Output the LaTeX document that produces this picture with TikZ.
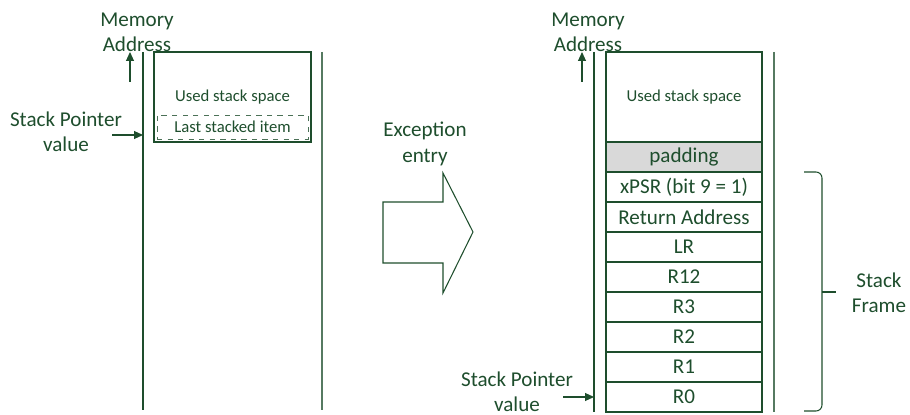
\documentclass[tikz,border=0pt]{standalone}
\usepackage{fontspec}
\setmainfont{Carlito}
\usetikzlibrary{positioning,arrows.meta}
\definecolor{stackgreen}{HTML}{1E4E2D}
\definecolor{padgray}{HTML}{D9D9D9}
\tikzset{
  stack cell/.style={
    draw=stackgreen,
    text=stackgreen,
    minimum width=31.2mm,
    minimum height=6mm,
    inner sep=0pt,
    outer sep=0pt,
    font=\fontsize{12}{14}\selectfont
  },
  big label/.style={
    align=center,
    text=stackgreen,
    font=\fontsize{12}{14.4}\selectfont
  },
  pointer/.style={
    draw=stackgreen,
    -{Triangle[length=1.8mm,width=1.6mm]}
  }
}

\begin{document}
\begin{tikzpicture}[x=0.2mm, y=-0.2mm, line width=0.6pt]
  \useasboundingbox (0,0) rectangle (910,415);

  % Before: memory walls
  \draw[stackgreen] (143,52) -- (143,410);
  \draw[stackgreen!75] (322,52) -- (322,410);

  % Before: used stack
  \node [stack cell, minimum width=31.4mm, minimum height=18mm,
         font=\fontsize{9.5}{11}\selectfont] (usedA) at (232.5,97) {Used stack space};
  \node [stack cell, dashed, line width=0.4pt, draw=stackgreen!80,
         minimum width=30.2mm, minimum height=4.8mm,
         font=\fontsize{9.5}{11}\selectfont] (lastA) at (232.5,127) {Last stacked item};

  % Before: labels
  \node [big label] (memA) at (137,32) {Memory\\Address};
  \node [big label] (spA) at (66,132) {Stack Pointer\\value};
  \coordinate (memAlo) at (130,82);
  \coordinate (memAhi) at (130,52);
  \coordinate (spAfrom) at (112,135);
  \coordinate (spAto) at (143,135);
  \draw[pointer] (memAlo) -- (memAhi);
  \draw[pointer] (spAfrom) -- (spAto);

  % Exception entry arrow
  \node [big label] (exc) at (425,144) {Exception\\entry};
  \draw[stackgreen] (383,202) -- (443,202) -- (443,173) -- (473,232)
    -- (443,293) -- (443,263) -- (383,263) -- cycle;

  % After: memory walls
  \draw[stackgreen] (594,52) -- (594,412);
  \draw[stackgreen!75] (774,52) -- (774,412);

  % After: stack frame
  \node [stack cell, minimum height=18mm, font=\fontsize{9.5}{11}\selectfont] (usedB) at (684,97) {Used stack space};
  \node [stack cell, fill=padgray, below=0pt of usedB] (pad) {padding};
  \node [stack cell, below=0pt of pad] (xpsr) {xPSR (bit 9 = 1)};
  \node [stack cell, below=0pt of xpsr] (ret) {Return Address};
  \node [stack cell, below=0pt of ret] (lr) {LR};
  \node [stack cell, below=0pt of lr] (r12) {R12};
  \node [stack cell, below=0pt of r12] (r3) {R3};
  \node [stack cell, below=0pt of r3] (r2) {R2};
  \node [stack cell, below=0pt of r2] (r1) {R1};
  \node [stack cell, below=0pt of r1] (r0) {R0};

  % After: labels
  \node [big label] (memB) at (588,32) {Memory\\Address};
  \node [big label, inner sep=0pt] (spB) at (517,392) {Stack Pointer\\value};
  \coordinate (memBlo) at (582,82);
  \coordinate (memBhi) at (582,52);
  \coordinate (spBfrom) at (563,397);
  \coordinate (spBto) at (594,397);
  \draw[pointer] (memBlo) -- (memBhi);
  \draw[pointer] (spBfrom) -- (spBto);

  % Brace
  \draw[stackgreen, rounded corners=1.2mm] (804,172) -- (822,172) -- (822,411) -- (804,411);
  \draw[stackgreen] (822,292) -- (836,292);
  \node [big label] (frame) at (879,293) {Stack\\Frame};
\end{tikzpicture}
\end{document}
